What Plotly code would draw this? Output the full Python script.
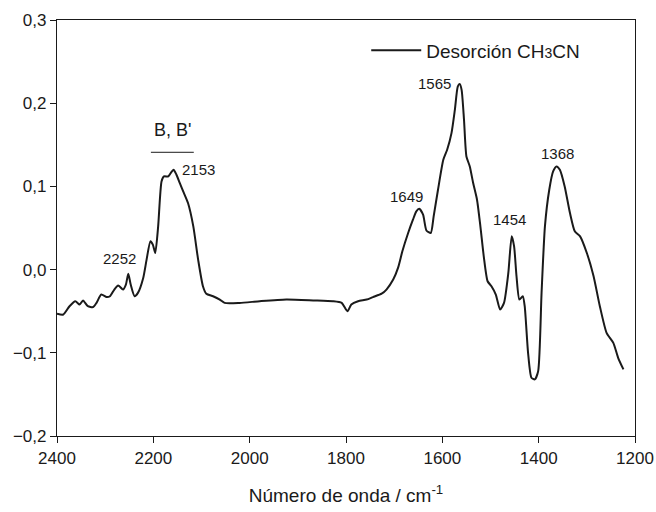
import plotly.graph_objects as go

wavenumber = [2400, 2387, 2374, 2362, 2353, 2346, 2336, 2325, 2318, 2308,
              2297, 2290, 2281, 2273, 2263, 2257, 2252, 2247, 2239, 2232,
              2221, 2214, 2206, 2201, 2196, 2190, 2183, 2178, 2169, 2164,
              2158, 2152, 2145, 2138, 2128, 2117, 2107, 2097, 2090, 2076,
              2062, 2052, 2021, 1979, 1924, 1868, 1827, 1809, 1797, 1789,
              1775, 1757, 1744, 1726, 1716, 1702, 1692, 1683, 1671, 1661,
              1654, 1648, 1640, 1633, 1624, 1618, 1609, 1598, 1590, 1581,
              1574, 1568, 1564, 1560, 1555, 1550, 1543, 1536, 1528, 1521,
              1514, 1506, 1498, 1489, 1480, 1472, 1463, 1456, 1451, 1446,
              1440, 1433, 1429, 1422, 1415, 1408, 1401, 1394, 1387, 1378,
              1370, 1363, 1356, 1346, 1335, 1325, 1314, 1300, 1286, 1273,
              1259, 1245, 1235, 1224]

absorbance = [-0.053, -0.054, -0.044, -0.038, -0.042, -0.037, -0.044, -0.045, -0.040, -0.030,
              -0.033, -0.032, -0.024, -0.019, -0.024, -0.018, -0.005, -0.018, -0.032, -0.028,
              -0.010, 0.012, 0.034, 0.030, 0.020, 0.052, 0.106, 0.112, 0.112, 0.116,
              0.120, 0.114, 0.104, 0.094, 0.080, 0.052, 0.012, -0.020, -0.029, -0.032,
              -0.036, -0.040, -0.040, -0.038, -0.036, -0.037, -0.038, -0.040, -0.050, -0.042,
              -0.038, -0.036, -0.033, -0.029, -0.024, -0.012, 0.002, 0.022, 0.044, 0.060,
              0.070, 0.073, 0.066, 0.047, 0.044, 0.064, 0.096, 0.132, 0.144, 0.164,
              0.192, 0.220, 0.223, 0.216, 0.180, 0.136, 0.124, 0.104, 0.084, 0.052,
              0.016, -0.014, -0.020, -0.030, -0.048, -0.040, -0.004, 0.040, 0.028, -0.008,
              -0.036, -0.032, -0.044, -0.100, -0.130, -0.132, -0.122, -0.028, 0.052, 0.096,
              0.118, 0.124, 0.120, 0.100, 0.068, 0.046, 0.040, 0.020, -0.008, -0.044,
              -0.076, -0.088, -0.106, -0.120]

x_ticks = [2400, 2200, 2000, 1800, 1600, 1400, 1200]
y_ticks = [-0.2, -0.1, 0.0, 0.1, 0.2, 0.3]

peak_labels = ["2252", "2153", "1649", "1565", "1454", "1368"]
peak_label_x = [2270, 2107, 1674, 1617, 1460, 1361]
peak_label_y = [0.013, 0.120, 0.088, 0.224, 0.060, 0.140]

FONT = "Liberation Sans, Arial, sans-serif"
INK = "#1a1a1a"

fig = go.Figure()
fig.add_trace(go.Scatter(
    x=wavenumber, y=absorbance, mode="lines",
    line=dict(color=INK, width=2, shape="spline", smoothing=0.6),
    name="Desorción CH<span style='font-size:14px'>3</span>CN",
))

for t, xv, yv in zip(peak_labels, peak_label_x, peak_label_y):
    fig.add_annotation(x=xv, y=yv, xref="x", yref="y", text=t, showarrow=False,
                       font=dict(family=FONT, size=15, color=INK))

fig.add_annotation(x=2161, y=0.168, xref="x", yref="y", text="B, B'", showarrow=False,
                   font=dict(family=FONT, size=18, color=INK))
fig.add_shape(type="line", x0=2205, x1=2116, y0=0.141, y1=0.141, xref="x", yref="y",
              line=dict(color=INK, width=1))

axis_common = dict(showgrid=False, zeroline=False, showline=True, linecolor=INK,
                   linewidth=1.3, mirror=True, ticks="outside", ticklen=6,
                   tickcolor=INK, tickwidth=1, automargin=False,
                   tickfont=dict(family=FONT, size=17, color=INK))

fig.update_xaxes(range=[2400, 1200], tickvals=x_ticks,
                 title=dict(text="Número de onda / cm<sup>-1</sup>",
                            font=dict(family=FONT, size=19, color=INK), standoff=22),
                 **axis_common)
fig.update_yaxes(range=[-0.2, 0.3], tickvals=y_ticks, tickformat=".1f", **axis_common)

fig.update_layout(
    width=656, height=512,
    margin=dict(l=57, r=21, t=20, b=76),
    paper_bgcolor="white", plot_bgcolor="white",
    separators=",.",
    showlegend=True,
    legend=dict(x=0.535, y=0.927, xanchor="left", yanchor="middle",
                bgcolor="rgba(0,0,0,0)", itemwidth=50,
                font=dict(family=FONT, size=19, color=INK)),
    font=dict(family=FONT, color=INK),
)

fig.write_html("out.html")
